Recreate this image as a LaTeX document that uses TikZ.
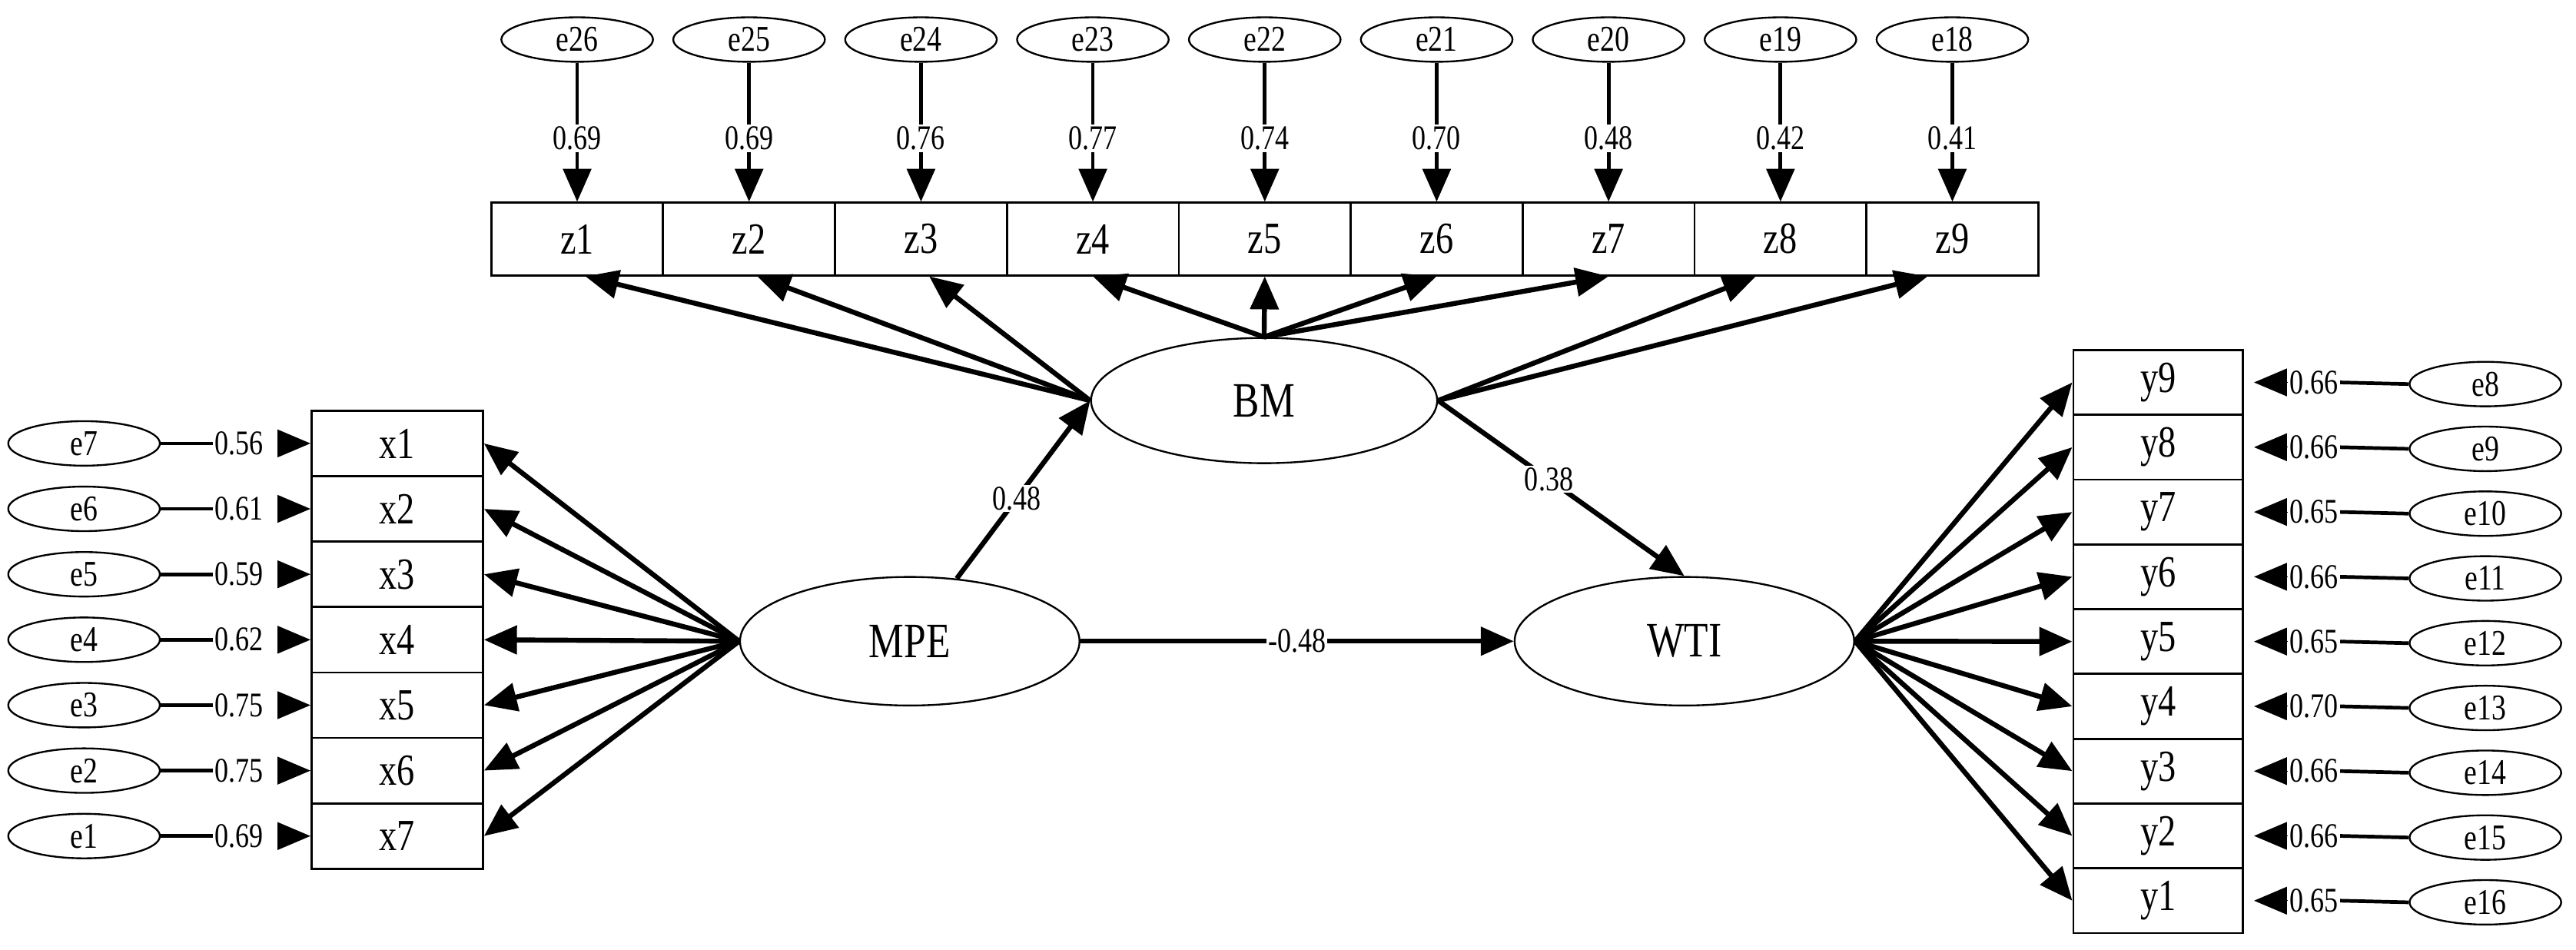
\documentclass[tikz,border=0pt]{standalone}
\usepackage{fontspec}
\setmainfont{Liberation Serif}
\usetikzlibrary{arrows.meta,shapes.geometric}
\newcommand\nar[1]{\scalebox{0.8}[1]{#1}}
\begin{document}
\begin{tikzpicture}[x=1pt,y=-1pt,
  err/.style={draw,ellipse,line width=1.1pt,minimum width=92pt,minimum height=27pt,inner sep=0pt,font=\fontsize{22}{22}\selectfont},
  lat/.style={draw,ellipse,line width=1.1pt,minimum width=206pt,minimum height=78pt,inner sep=0pt,font=\fontsize{30}{30}\selectfont},
  box/.style={draw,line width=1.3pt,inner sep=0pt,font=\fontsize{27}{27}\selectfont},
  num/.style={font=\fontsize{21}{21}\selectfont,inner sep=1pt,fill=white},
  tip/.style={-{Triangle[length=20pt,width=17pt]}},
  path/.style={line width=3pt,tip},
  eline/.style={line width=2.2pt}]
\useasboundingbox (0,0) rectangle (1563,576);
% left x boxes
\foreach \i/\e/\v [count=\k from 0] in {1/7/0.56,2/6/0.61,3/5/0.59,4/4/0.62,5/3/0.75,6/2/0.75,7/1/0.69}{
  \pgfmathsetmacro\yc{269+39.7*\k}
  \node[box,minimum width=104pt,minimum height=39.7pt] (x\i) at (241,\yc) {\nar{x\i}};
  \node[err] (e\e) at (51,\yc) {\nar{e\e}};
  \node[num,fill=none] (lx\i) at (145,\yc) {\nar{\v}};
  \draw[eline] (e\e.east) -- (lx\i.west);
  \coordinate (tx\i) at (170,\yc);
  \draw[line width=0pt,tip] (tx\i) -- (x\i.west);
}
% latent
\node[lat] (MPE) at (552,389) {\nar{MPE}};
\node[lat] (WTI) at (1022,389) {\nar{WTI}};
\node[lat,minimum width=210pt,minimum height=76pt] (BM) at (767,243) {\nar{BM}};
\foreach \i in {1,...,7}{\draw[path] (MPE.west) -- (x\i.east);}
% z boxes
\foreach \i/\e/\v [count=\k from 0] in {1/26/0.69,2/25/0.69,3/24/0.76,4/23/0.77,5/22/0.74,6/21/0.70,7/20/0.48,8/19/0.42,9/18/0.41}{
  \pgfmathsetmacro\xc{350.2+104.3*\k}
  \node[box,minimum width=104.3pt,minimum height=44pt] (z\i) at (\xc,145) {\nar{z\i}};
  \node[err] (e\e) at (\xc,24) {\nar{e\e}};
  \node[num] (lz\i) at (\xc,84) {\nar{\v}};
  \draw[eline] (e\e.south) -- (lz\i.north);
  \draw[eline,tip] (lz\i.south) -- (z\i.north);
}
\foreach \i in {1,2,3}{\draw[path] (BM.west) -- ([xshift=5pt]z\i.south);}
\foreach \i in {4,5,6,7}{\draw[path] (BM.north) -- (z\i.south);}
\foreach \i in {8,9}{\draw[path] (BM.east) -- ([xshift=-15pt]z\i.south);}
% y boxes
\foreach \i/\e/\v [count=\k from 0] in {9/8/0.66,8/9/0.66,7/10/0.65,6/11/0.66,5/12/0.65,4/13/0.70,3/14/0.66,2/15/0.66,1/16/0.65}{
  \pgfmathsetmacro\yc{232+39.3*\k}
  \node[box,minimum width=103pt,minimum height=39.3pt] (y\i) at (1309.5,\yc) {\nar{y\i}};
  \node[err] (e\e) at (1508,\yc+1) {\nar{e\e}};
  \node[num,fill=none] (ly\i) at (1404,\yc) {\nar{\v}};
  \draw[eline] (e\e.west) -- (ly\i.east);
  \coordinate (ty\i) at (1388,\yc);
  \draw[line width=0pt,tip] (ty\i) -- ([xshift=6pt]y\i.east);
  \draw[path] (WTI.east) -- (y\i.west);
}
% structural paths
\draw[path] (MPE) -- (BM.west) node[num,pos=0.45] {\nar{0.48}};
\draw[path] (BM.east) -- (WTI.north) node[num,pos=0.45] {\nar{0.38}};
\draw[path] (MPE) -- (WTI) node[num,midway] {\nar{-0.48}};
\end{tikzpicture}
\end{document}
